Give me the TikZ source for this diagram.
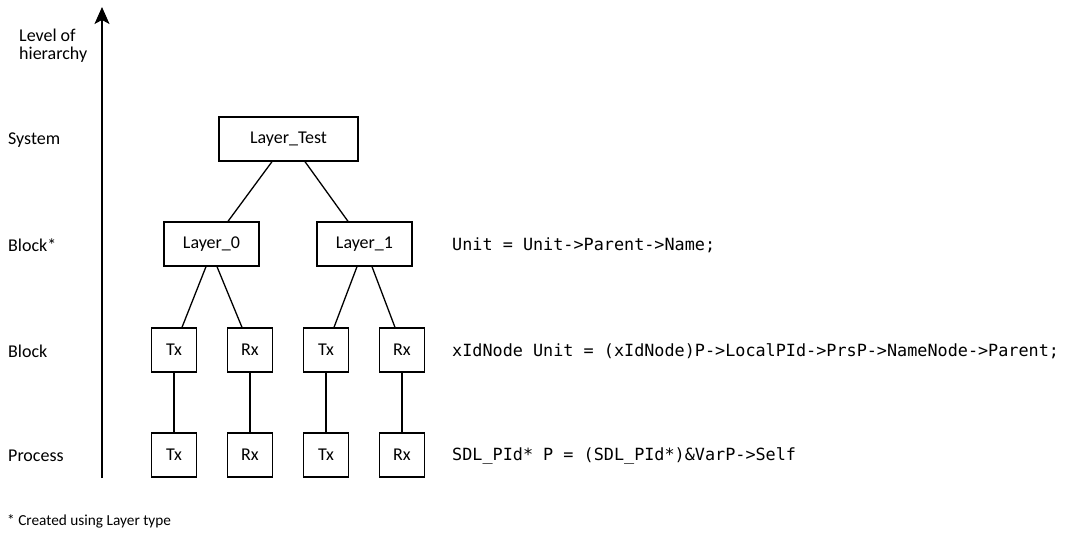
\documentclass[tikz,border=0pt]{standalone}
\usepackage{fontspec}
\setmainfont{Carlito}
\newfontfamily\codefont{DejaVu Sans Mono}
\usetikzlibrary{arrows.meta}
\begin{document}
\begin{tikzpicture}[x=1bp,y=-1bp,
  every node/.style={font=\fontsize{18bp}{22bp}\selectfont},
  box/.style={draw, line width=1.3bp, inner sep=0pt, minimum height=44bp},
  wide/.style={box, minimum width=95bp},
  small/.style={box, minimum width=45bp},
  level/.style={anchor=west, inner sep=0pt},
  code/.style={anchor=west, inner sep=0pt, font=\codefont\fontsize{16.8bp}{20bp}\selectfont},
  link/.style={line width=1.3bp}]
\useasboundingbox (0,0) rectangle (1068,536);

% hierarchy axis
\coordinate (axbot) at (102,478);
\coordinate (axtop) at (102,7);
\draw[line width=1.3bp, -{Stealth[length=17bp,width=15bp,inset=4bp]}] (axbot) -- (axtop);

% level names
\node[level, align=left, font=\fontsize{18bp}{17.5bp}\selectfont] (lvh) at (19,45.5) {Level of\\hierarchy};
\node[level] (lsys) at (8,140) {System};
\node[level] (lbs) at (8,245) {Block*};
\node[level] (lb) at (8,351) {Block};
\node[level] (lp) at (8,456) {Process};

% tree
\node[box, minimum width=139bp] (lt) at (288.5,139) {Layer\_Test};
\node[wide] (l0) at (211.5,244) {Layer\_0};
\node[wide] (l1) at (364.5,244) {Layer\_1};

\node[small] (btx0) at (174,350) {Tx};
\node[small] (brx0) at (250,350) {Rx};
\node[small] (btx1) at (326,350) {Tx};
\node[small] (brx1) at (402,350) {Rx};

\node[small] (ptx0) at (174,455) {Tx};
\node[small] (prx0) at (250,455) {Rx};
\node[small] (ptx1) at (326,455) {Tx};
\node[small] (prx1) at (402,455) {Rx};

\draw[link] ([xshift=-16.5bp]lt.south) -- ([xshift=16.5bp]l0.north);
\draw[link] ([xshift=16.5bp]lt.south) -- ([xshift=-16.5bp]l1.north);

\draw[link] ([xshift=-5.5bp]l0.south) -- ([xshift=8bp]btx0.north);
\draw[link] ([xshift=5.5bp]l0.south) -- ([xshift=-8bp]brx0.north);
\draw[link] ([xshift=-7.5bp]l1.south) -- ([xshift=8bp]btx1.north);
\draw[link] ([xshift=7.5bp]l1.south) -- ([xshift=-7bp]brx1.north);

\draw[link] (btx0) -- (ptx0);
\draw[link] (brx0) -- (prx0);
\draw[link] (btx1) -- (ptx1);
\draw[link] (brx1) -- (prx1);

% access expressions per level
\node[code] (c1) at (452,245) {Unit = Unit->Parent->Name;};
\node[code] (c2) at (452,351) {xIdNode Unit = (xIdNode)P->LocalPId->PrsP->NameNode->Parent;};
\node[code] (c3) at (452,456) {SDL\_PId* P = (SDL\_PId*)\&VarP->Self};

% footnote
\node[level, font=\fontsize{15.3bp}{18bp}\selectfont] (fn) at (7,521) {* Created using Layer type};
\end{tikzpicture}
\end{document}
